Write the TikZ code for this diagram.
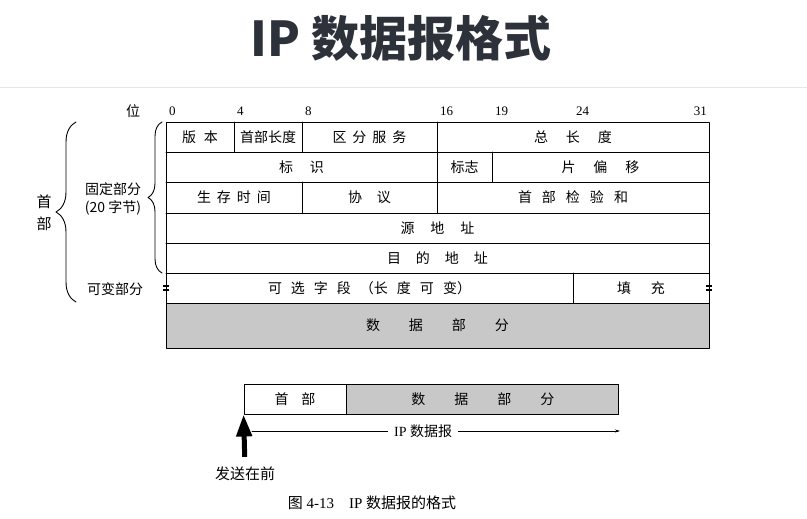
\documentclass[tikz,border=0pt]{standalone}
\usepackage{fontspec}
\setmainfont{Liberation Serif}
\newfontfamily\cjk{Noto Sans CJK SC}
\usetikzlibrary{arrows.meta}
\usetikzlibrary{decorations.pathreplacing}
\usetikzlibrary{positioning}
\definecolor{titlegray}{HTML}{2D3139}
\definecolor{rulegray}{HTML}{E6E6E6}
\definecolor{datagray}{HTML}{C8C8C8}
\newcommand{\sk}[1]{\hspace{#1pt}}

\begin{document}
\begin{tikzpicture}[line cap=round,line join=round,x=1pt,y=-1pt,
  field/.style={font=\cjk\fontsize{14}{14}\selectfont,inner sep=0pt},
  bitnum/.style={font=\fontsize{13}{13}\selectfont,inner sep=0pt},
  side/.style={font=\cjk\fontsize{14}{18}\selectfont,align=center,inner sep=0pt},
  frame/.style={line width=0.9pt},
  brk/.style={line width=1.1pt,line cap=butt}]
\useasboundingbox (0,0) rectangle (807,519);
% title
\node[font=\cjk\bfseries\fontsize{48}{48}\selectfont,text=titlegray] (title) at (401,38) {IP 数据报格式};
\draw[rulegray,line width=1pt] (0,88) -- (807,88);
%
% bit positions
\node[side] (wei) at (133,111) {位};
\foreach \b/\x in {0/166,4/234,8/302,16/437,19/492,24/573}
  \node[bitnum,anchor=west] (b\b) at (\x+3,111) {\b};
\node[bitnum,anchor=east] (b31) at (707,111) {31};
%
% header frame
\begin{scope}[frame]
\draw (166,122) rectangle (709,303);
\foreach \y in {152,182,213,243,273}
  \draw (166,\y) -- (709,\y);
\draw (234,122) -- (234,152);
\draw (302,122) -- (302,152);
\draw (437,122) -- (437,213);
\draw (492,152) -- (492,182);
\draw (302,182) -- (302,213);
\draw (573,273) -- (573,303);
\draw[fill=datagray] (166,303) rectangle (709,348);
\end{scope}
% break marks on the options row
\draw[brk] (163,286) -- (169,286) (163,290) -- (169,290);
\draw[brk] (706,286) -- (712,286) (706,290) -- (712,290);
%
% fields
\node[field] (ver)  at (200,137) {版\sk{8}本};
\node[field] (ihl)  at (268,137) {首部长度};
\node[field] (tos)  at (369.5,137) {区\sk{6}分\sk{6}服\sk{6}务};
\node[field] (tlen) at (573,137) {总\sk{18}长\sk{18}度};
\node[field] (ident) at (301.5,167) {标\sk{17}识};
\node[field] (flag) at (464.5,167) {标志};
\node[field] (frag) at (600.5,167) {片\sk{18}偏\sk{18}移};
\node[field] (ttl)  at (234,197.5) {生\sk{6}存\sk{6}时\sk{6}间};
\node[field] (prot) at (369.5,197.5) {协\sk{15}议};
\node[field] (csum) at (573,197.5) {首\sk{10}部\sk{10}检\sk{10}验\sk{10}和};
\node[field] (src)  at (437.5,228) {源\sk{16}地\sk{16}址};
\node[field] (dst)  at (437.5,258) {目\sk{15}的\sk{15}地\sk{15}址};
\node[field] (opt)  at (369.5,288) {可\sk{9}选\sk{9}字\sk{9}段\sk{9}（长\sk{9}度\sk{9}可\sk{9}变）};
\node[field] (pad)  at (641,288) {填\sk{20}充};
\node[field] (data) at (437.5,325.5) {数\sk{29}据\sk{29}部\sk{29}分};
%
% braces and side labels
\draw[frame,decorate,decoration={brace,amplitude=20pt}] (76,302) -- (76,122);
\draw[frame,decorate,decoration={brace,amplitude=14pt}] (162,273) -- (162,122);
\node[side,font=\cjk\fontsize{15}{22}\selectfont] (hd) at (44,213) {首\\部};
\node[side] (fixed) at (113,199) {固定部分\\(20 {\cjk 字节})};
\node[side] (var) at (115,289) {可变部分};
%
% datagram below
\node[frame,draw,field,minimum width=102pt,minimum height=30pt] (hdr) at (295,399) {首\sk{13}部};
\node[frame,draw,field,fill=datagray,minimum width=272pt,minimum height=30pt,right=0pt of hdr] (pay) {数\sk{29}据\sk{29}部\sk{29}分};
\node[side,font=\cjk\fontsize{15}{15}\selectfont] (send) at (245,474) {发送在前};
\draw[line width=5pt,line cap=butt,shorten <=10pt,-{Triangle[width=15pt,length=22pt]}] (send.north) -- (hdr.south west);
\coordinate (dgl) at (252,431);
\coordinate (dgr) at (620,431);
\draw[line width=0.7pt,-{Stealth[length=5pt,width=3pt]}] (dgl) -- node[fill=white,pos=0.465,inner xsep=6pt,font=\fontsize{14}{14}\selectfont] (dglabel) {IP {\cjk 数据报}} (dgr);
%
\node[font=\fontsize{15}{15}\selectfont] (cap) at (372,503) {{\cjk 图} 4-13\quad IP {\cjk 数据报的格式}};
\end{tikzpicture}
\end{document}
